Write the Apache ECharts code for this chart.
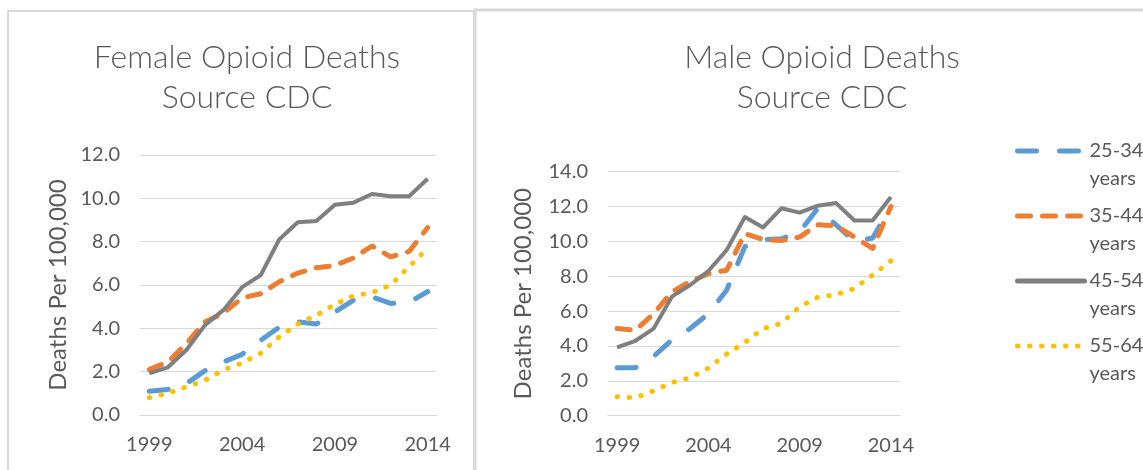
<!DOCTYPE html>
<html><head><meta charset="utf-8">
<script src="https://cdn.jsdelivr.net/npm/echarts@6/dist/echarts.min.js"></script>
<style>html,body{margin:0;padding:0;background:#fff}#c{width:1143px;height:470px}</style>
</head><body><div id="c"></div>
<script>
const years = ['1999','2000','2001','2002','2003','2004','2005','2006','2007','2008','2009','2010','2011','2012','2013','2014'];
const seriesNames = ['25-34 years','35-44 years','45-54 years','55-64 years'];
const female25 = [1.1,1.18,1.45,2.05,2.45,2.8,3.45,4.05,4.3,4.2,4.75,5.3,5.45,5.15,5.2,5.7];
const female35 = [2.1,2.45,3.3,4.3,4.7,5.4,5.6,6.15,6.55,6.8,6.9,7.25,7.8,7.3,7.55,8.65];
const female45 = [1.92,2.2,3.0,4.15,4.85,5.9,6.45,8.1,8.9,8.95,9.7,9.8,10.2,10.1,10.1,10.9];
const female55 = [0.8,1.0,1.3,1.6,2.08,2.4,2.85,3.6,4.2,4.6,5.1,5.5,5.65,6.0,6.85,7.7];
const male25 = [2.75,2.75,3.4,4.35,5.0,5.85,7.2,9.7,10.1,10.15,10.55,11.9,10.95,10.0,10.2,12.0];
const male35 = [5.0,4.9,5.85,7.1,7.7,8.15,8.35,10.45,10.1,10.05,10.25,10.95,10.9,10.25,9.6,12.0];
const male45 = [3.92,4.3,5.0,6.83,7.5,8.3,9.5,11.4,10.8,11.9,11.65,12.05,12.2,11.2,11.2,12.55];
const male55 = [1.09,1.03,1.43,1.9,2.18,2.73,3.54,4.2,5.0,5.3,6.25,6.8,6.95,7.3,8.07,8.88];
const femaleTitle = 'Female Opioid Deaths\nSource CDC';
const maleTitle = 'Male Opioid Deaths\nSource CDC';
const yName = 'Deaths Per 100,000';

const FONT = 'Lato';
const TXT = '#595959';
const GRIDC = '#d9d9d9';
const styles = [
  {color:'#5B9BD5', width:5, type:[19,23], cap:'round'},
  {color:'#ED7D31', width:5, type:[13,12], cap:'round'},
  {color:'#7F7F7F', width:4, type:'solid', cap:'butt'},
  {color:'#FFC000', width:5, type:[0.5,11.5], cap:'round'}
];
const femaleData = [female25, female35, female45, female55];
const maleData = [male25, male35, male45, male55];

function xAxis(gi){
  return {type:'category', gridIndex:gi, data:years, boundaryGap:true,
    axisTick:{show:false}, axisLine:{show:true, lineStyle:{color:GRIDC, width:1}},
    axisLabel:{interval:4, color:TXT, fontFamily:FONT, fontSize:20, margin:20}};
}
function yAxis(gi, max, gap){
  return {type:'value', gridIndex:gi, min:0, max:max, interval:2,
    name:yName, nameLocation:'middle', nameRotate:90, nameGap:gap,
    nameTextStyle:{color:TXT, fontFamily:FONT, fontSize:24},
    axisLine:{show:false}, axisTick:{show:false},
    splitLine:{lineStyle:{color:GRIDC, width:1}},
    axisLabel:{color:TXT, fontFamily:FONT, fontSize:20, margin:20, formatter:v=>v.toFixed(1)}};
}
const series = [];
[femaleData, maleData].forEach((set, gi)=>{
  set.forEach((d, i)=>{
    const s = styles[i];
    series.push({name:seriesNames[i], type:'line', xAxisIndex:gi, yAxisIndex:gi, data:d,
      symbol:'none', smooth:false, animation:false,
      lineStyle:{color:s.color, width:s.width, type:s.type, cap:s.cap, join:'round'},
      itemStyle:{color:s.color}});
  });
});

const chart = echarts.init(document.getElementById('c'), null, {renderer:'canvas'});
chart.setOption({
  animation:false,
  backgroundColor:'#fff',
  graphic:[
    {type:'rect', shape:{x:8, y:11, width:466, height:480}, style:{fill:'none', stroke:GRIDC, lineWidth:2}, silent:true},
    {type:'rect', shape:{x:475, y:10, width:700, height:480}, style:{fill:'none', stroke:GRIDC, lineWidth:3}, silent:true}
  ],
  title:[
    {text:femaleTitle, left:242, top:33, textAlign:'center',
      textStyle:{color:TXT, fontFamily:FONT, fontSize:32, fontWeight:300, lineHeight:40}},
    {text:maleTitle, left:817, top:33, textAlign:'center',
      textStyle:{color:TXT, fontFamily:FONT, fontSize:32, fontWeight:300, lineHeight:40}}
  ],
  legend:{
    data:seriesNames, orient:'vertical', left:1010, top:104,
    itemWidth:67, itemHeight:14, itemGap:-19,
    itemStyle:{opacity:0},
    lineStyle:{width:5, cap:'round'},
    formatter: n => ' \n' + n.replace(' ', '\n'),
    textStyle:{color:TXT, fontFamily:FONT, fontSize:20, lineHeight:28}
  },
  grid:[
    {left:140, top:155, width:297, height:260},
    {left:608, top:171.7, width:292, height:244}
  ],
  xAxis:[xAxis(0), xAxis(1)],
  yAxis:[yAxis(0, 12, 70), yAxis(1, 14, 73)],
  series:series
});
</script></body></html>
